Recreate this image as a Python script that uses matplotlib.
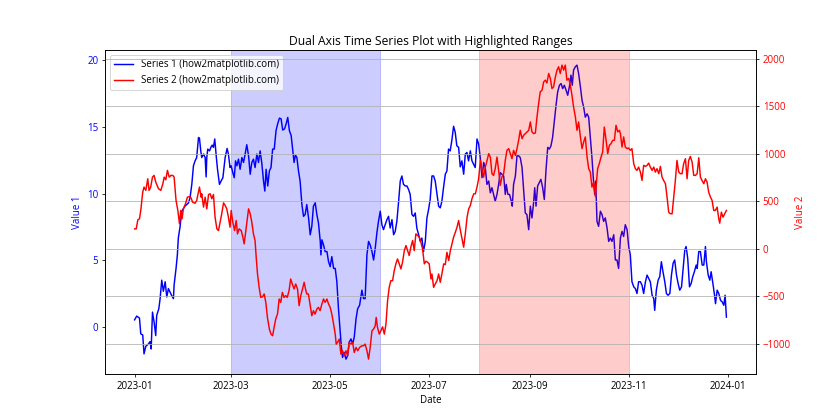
import matplotlib
matplotlib.use("Agg")
import matplotlib.pyplot as plt
import pandas as pd

plt.rcParams['font.family'] = ['Open Sans', 'DejaVu Sans']

start_date = "2023-01-01"

s1_day = [0.0, 1.3, 3.0, 3.8, 5.0, 5.8, 6.9, 8.5, 9.5, 10.2, 11.0, 12.0, 13.0, 13.6, 14.9, 15.7, 16.7, 17.7, 18.8, 19.8,
          20.8, 22.9, 23.9, 24.3, 25.5, 26.3, 26.9, 28.0, 29.0, 31.0, 33.1, 34.1, 35.2, 36.2, 37.2, 38.2, 39.3, 39.9, 40.7, 41.3,
          42.4, 43.4, 44.0, 44.4, 45.0, 46.1, 46.9, 47.7, 48.5, 49.3, 50.2, 51.0, 52.2, 53.2, 54.3, 55.7, 56.9, 57.7, 58.7,
          59.4, 60.4, 61.3, 62.1, 62.9, 63.9, 64.9, 66.0, 67.0, 68.0, 69.0, 70.1, 71.1, 72.1, 73.1, 74.1, 75.2, 76.2, 77.2, 78.2,
          79.3, 80.1, 80.9, 81.9, 82.9, 83.9, 84.9, 85.9, 87.0, 88.0, 89.1, 90.1, 91.1, 92.2, 93.2, 94.2, 95.2, 96.3, 97.3, 98.1,
          98.9, 99.8, 100.8, 101.8, 102.9, 103.9, 104.9, 105.9, 107.0, 108.0, 109.0, 110.0, 111.1, 112.1, 113.1, 114.2, 114.6,
          115.2, 116.2, 117.2, 118.3, 119.3, 120.3, 121.3, 122.4, 123.4, 124.4, 125.4, 126.5, 127.1, 127.9, 128.9, 130.0, 131.0,
          132.0, 133.1, 134.1, 135.1, 136.2, 137.2, 138.4,
          139.8, 140.8, 141.8, 142.9, 143.9, 144.9, 146.0, 147.0, 148.0, 149.0, 150.0, 151.1, 152.1, 153.1, 154.1, 155.2, 156.2,
          157.2, 158.3, 159.3, 160.3, 161.3, 162.4, 163.4, 164.4, 165.4, 166.5, 167.5, 168.5, 169.5, 170.6, 171.6, 172.6, 173.6,
          174.7, 175.7, 176.7, 177.7, 178.8, 179.8, 180.8, 181.8, 182.9, 183.9, 184.9, 185.9, 187.0, 188.0, 189.0, 190.0, 191.1,
          192.1, 193.1, 194.1, 195.1, 196.2, 197.2, 198.2, 199.3, 200.3, 201.3, 202.4, 203.4, 204.4, 205.4, 206.5, 207.5, 208.5,
          209.5, 210.6, 211.6, 212.6, 213.7, 214.7, 215.7, 216.7, 217.8,
          218.8, 219.8, 220.8, 221.8, 222.9, 223.9, 224.9, 225.9, 227.0, 228.0, 228.6, 229.6, 230.6, 231.7, 232.3, 233.1, 234.2,
          235.2, 236.2, 237.2, 238.3, 239.3, 240.3, 241.3, 242.4, 243.4, 244.4, 245.4, 246.1, 246.9, 247.9, 248.9, 249.9, 251.0,
          252.0, 253.0, 254.1, 255.1, 256.1, 257.1, 258.2, 259.2, 260.2, 261.3, 262.3, 263.3, 264.3, 265.4, 266.4, 267.4, 268.4,
          269.2, 270.0, 271.1, 272.1, 273.1, 274.2, 275.2, 276.2, 277.2, 278.3, 279.3, 280.3, 281.3, 282.4, 283.0, 283.6, 284.4,
          285.4, 286.5, 287.5, 288.5, 289.5, 290.6, 291.6, 292.6, 293.6, 294.7, 295.7, 296.7, 297.7,
          298.8, 299.8, 300.8, 301.8, 302.9, 303.9, 304.9, 305.9, 307.0, 308.0, 309.0, 310.0, 311.1, 312.1, 313.1, 314.2, 315.2,
          316.2, 317.2, 318.3, 319.3, 319.9, 320.9, 322.0, 323.0, 324.0, 325.0, 326.1, 327.1, 328.1, 329.2, 330.2, 331.2, 332.2,
          333.3, 334.3, 335.3, 336.4, 337.4, 338.4, 339.2, 340.2, 341.3, 342.3, 343.3, 344.3, 345.4, 346.0, 347.0, 348.0, 349.1,
          350.1, 351.1, 351.7, 352.8, 353.8, 354.6, 355.7, 356.7, 357.3, 358.3, 359.3, 360.4, 361.4, 362.4, 363.2, 364.0]

s1_val = [0.55, 0.83, 0.68, -0.5, -0.58, -2.0, -1.43, -1.26, -1.08, -1.63, 1.13, 0.38, -0.63, 0.88, 1.38, 2.14, 3.52, 2.69, 3.4, 2.26,
          2.89, 2.34, 2.14, 3.15, 4.4, 5.4, 6.67, 7.55, 8.68, 9.06, 9.3, 9.69, 10.7, 12.08, 12.45, 12.7, 14.2, 14.15, 13.2, 12.7,
          12.96, 12.7, 11.25, 12.7, 13.33, 13.2, 13.46, 13.63, 13.46, 14.09, 12.83, 11.82, 10.69, 10.94, 11.19, 12.7, 13.38, 12.96, 11.95,
          12.08, 11.57, 11.19, 12.45, 12.08, 12.58, 11.82, 12.7, 12.33, 12.96, 13.66, 12.83, 11.45, 12.33, 12.58, 11.95, 12.96, 12.33, 13.2, 12.33,
          10.94, 10.19, 11.82, 10.57, 11.7, 11.95, 13.33, 13.33, 14.72, 15.22, 15.65, 15.6, 14.76, 14.84, 15.22, 15.7, 14.72, 14.34, 13.2, 12.33,
          12.88, 12.71, 11.7, 10.94, 9.18, 8.3, 8.43, 9.18, 8.18, 6.92, 7.55, 9.06, 9.31, 8.43, 7.8, 6.42, 5.41,
          6.54, 6.16, 5.66, 5.66, 4.9, 4.53, 5.28, 4.4, 4.4, 3.4, 1.38, -0.38, -1.38, -2.26, -1.89, -2.39, -2.14,
          -1.13, -0.88, -1.26, -0.75, 0.63, 1.38, 1.64,
          2.77, 2.14, 2.14, 5.41, 6.42, 6.16, 5.66, 5.03, 5.91, 7.04, 7.92, 8.68, 7.67, 7.3, 7.67, 8.05, 8.3,
          7.42, 8.05, 6.92, 7.17, 7.92, 9.43, 10.94, 11.32, 10.69, 10.57, 10.57, 10.31, 9.94, 8.43, 8.3, 8.55, 7.42,
          6.92, 6.42, 6.67, 5.66, 6.42, 8.18, 8.8, 9.56, 11.32, 11.32, 10.94, 10.06, 9.06, 8.93, 9.43, 10.44, 11.45,
          11.7, 13.33, 13.2, 13.96, 15.04, 14.59, 13.58, 13.46, 12.0, 12.45, 11.45, 12.96, 13.08, 12.45, 13.2, 12.45, 12.2,
          11.95, 14.09, 13.71, 12.7, 11.19, 12.33, 11.95, 10.69, 10.94,
          10.06, 10.44, 9.94, 9.43, 9.94, 10.69, 11.57, 11.45, 11.32, 9.94, 10.69, 9.94, 9.94, 9.43, 9.06, 10.69, 11.32,
          12.83, 12.83, 12.7, 11.95, 10.19, 8.55, 8.43, 7.3, 9.06, 8.18, 9.31, 10.44, 9.06, 10.57, 10.82, 11.07, 10.44,
          9.56, 11.7, 13.46, 13.33, 13.58, 14.21, 15.47, 16.6, 17.6, 18.11, 18.24, 17.86, 18.11, 17.74, 17.36, 17.99, 18.87,
          18.11, 19.25, 19.5, 19.62, 18.99, 17.99, 16.98, 16.48, 15.72, 15.97, 15.72, 14.21, 12.7, 10.69, 9.94, 10.94, 7.92,
          7.55, 8.68, 8.43, 7.92, 8.18, 7.42, 6.42, 6.67, 6.42, 6.92, 5.03, 5.03, 4.4,
          6.67, 7.17, 6.79, 7.67, 7.3, 6.04, 5.41, 3.4, 3.02, 2.89, 2.52, 3.4, 3.4, 3.14, 2.52, 3.4, 3.9,
          3.65, 3.4, 2.39, 2.14, 1.26, 2.77, 3.52, 3.78, 4.9, 4.15, 3.4, 2.52, 2.39, 2.52, 3.9, 4.78, 5.03,
          3.9, 3.27, 2.77, 3.02, 4.4, 5.79, 6.04, 5.16, 3.02, 3.27, 3.78, 4.15, 4.65, 4.4, 5.66, 5.66, 4.65,
          4.65, 6.04, 4.9, 3.9, 3.52, 4.15, 3.27, 2.39, 1.76, 2.77, 2.52, 2.01, 1.89, 1.64, 2.39, 0.75]

s2_day = [0.0, 1.0, 2.0, 3.0, 3.8, 5.0, 5.8, 6.9, 8.1, 8.9, 9.9, 11.0, 12.0, 13.0, 14.7, 16.1, 17.4, 18.2, 19.2, 20.2,
          21.3, 22.3, 23.5, 24.3, 25.5, 26.6, 27.6, 28.4, 29.2, 30.0, 31.3, 32.5, 33.7, 34.5, 35.7, 37.2, 38.2, 39.3, 39.9, 40.9,
          41.3, 42.4, 43.4, 44.4, 45.5, 46.5, 47.5, 48.5, 49.5, 50.6, 51.6, 52.6, 53.6, 54.7, 55.7, 56.7, 57.7, 58.7,
          59.4, 60.4, 61.5, 62.5, 63.3, 64.3, 65.6, 66.6, 67.4, 68.4, 69.0, 70.1, 71.1, 72.1, 73.1, 74.1, 74.8, 75.6, 76.6, 77.6,
          78.7, 79.7, 80.7, 81.7, 82.9, 83.9, 84.9, 85.8, 86.8, 87.9, 88.9, 89.9, 90.9, 91.9, 92.9, 93.9, 95.0, 96.0, 97.0, 98.1,
          99.1, 100.2, 101.2, 102.2, 103.3, 104.3, 105.1, 105.9, 106.9, 108.0, 109.0, 110.0, 111.0, 112.1, 113.1, 114.1, 115.2,
          116.2, 117.2, 118.3, 119.3, 120.3, 121.3, 122.4, 123.4, 124.0, 124.8, 125.9, 126.9, 127.9, 128.9, 130.0, 131.0, 132.0,
          133.1, 134.1, 135.1, 136.2, 137.2, 138.4,
          139.8, 140.8, 141.8, 142.9, 143.9, 144.9, 146.0, 147.0, 148.0, 148.6, 149.4, 150.5, 151.5, 152.5, 153.6, 154.6, 155.6,
          156.6, 157.6, 158.7, 159.7, 160.7, 161.7, 162.8, 163.8, 164.8, 165.9, 166.9, 167.9, 168.9, 169.9, 171.0, 172.0, 173.0,
          174.1, 175.1, 176.1, 177.1, 178.2, 179.2, 180.2, 181.2, 182.3, 182.9, 183.9, 184.9, 186.0, 187.0, 188.0, 189.0, 190.1,
          191.1, 192.1, 193.2, 194.2, 195.2, 196.2, 197.3, 198.3, 199.3, 200.4, 201.4, 202.4, 203.4, 204.5, 205.5, 206.5, 207.5,
          208.6, 209.6, 210.6, 211.6, 212.7, 213.7, 214.7, 215.7, 216.8, 217.8,
          218.8, 219.8, 220.8, 221.8, 222.9, 223.9, 224.9, 225.9, 227.0, 228.0, 229.0, 230.1, 231.1, 232.1, 233.1, 234.2, 235.2,
          236.2, 237.2, 238.3, 239.3, 240.3, 241.3, 242.4, 243.4, 244.4, 245.4, 246.5, 247.5, 248.5, 249.5, 250.6, 251.6, 252.6,
          253.6, 254.7, 255.7, 256.7, 257.7, 258.8, 259.8, 260.8, 261.8, 262.9, 263.9, 264.9, 265.9, 267.0, 268.0, 269.0, 270.0,
          271.1, 272.1, 273.1, 274.2, 275.2, 276.2, 277.2, 278.3, 279.3, 280.3, 281.3, 282.4, 283.4, 284.0, 284.8, 285.8, 286.9,
          287.9, 288.9, 290.0, 291.0, 292.0, 293.0, 294.1, 295.1, 296.1, 297.2, 298.2,
          298.8, 299.8, 300.8, 301.8, 302.9, 303.9, 304.9, 305.9, 307.0, 308.0, 309.0, 310.0, 311.1, 312.1, 313.1, 314.2, 315.2,
          316.2, 317.2, 318.3, 319.3, 320.3, 321.3, 322.4, 323.4, 324.4, 325.4, 326.5, 327.5, 328.5, 329.5, 330.6, 331.6, 332.6,
          333.6, 334.7, 335.7, 336.7, 337.7, 338.8, 339.8, 340.8, 341.8, 342.9, 343.9, 344.9, 346.0, 347.0, 348.0, 349.0, 350.1,
          351.1, 352.1, 353.1, 354.2, 355.2, 356.2, 357.2, 358.3, 359.3, 359.9, 360.9, 361.9, 363.0, 364.0]

s2_val = [211, 211, 306, 317, 405, 598, 651, 616, 739, 616, 651, 756, 774, 704, 634, 616, 686, 756, 728, 827,
          756, 774, 774, 756, 510, 405, 264, 405, 317, 422, 475, 545, 551, 545, 492, 481, 510, 598, 651, 545,
          580, 440, 545, 422, 573, 580, 528, 573, 334, 211, 193, 281, 370, 485, 457, 422, 334, 228,
          405, 281, 193, 299, 158, 211, 193, 123, 53, 193, 281, 422, 370, 281, 158, 88, -89, -264, -405, -511,
          -504, -475, -563, -722, -845, -898, -915, -828, -739, -687, -528, -563, -458, -511, -493, -511, -440, -317, -370, -422,
          -370, -422, -599, -493, -422, -352, -422, -475, -475, -599, -704, -651, -687, -634, -616, -651, -581,
          -528, -563, -528, -581, -616, -687, -792, -898, -1003, -986, -950, -1109, -1073, -1126, -1073, -1126, -986,
          -1003, -986, -1091, -1038, -1073, -1038,
          -1021, -1021, -1003, -1073, -1161, -1038, -863, -845, -810, -722, -828, -898, -863, -821, -898, -792, -546,
          -405, -335, -335, -229, -158, -106, -158, -211, -141, -18, 35, -18, -70, 18, 88, -18, 158,
          141, 123, 70, 0, -158, -130, -141, -158, -317, -264, -405, -370, -335, -264, -352, -264, -158,
          -165, -36, -123, -18, 53, 123, 176, 228, 299, 193, 105, 18, 158, 334, 422, 457, 528,
          580, 580, 651, 739, 932, 827, 756, 862, 932, 1003,
          967, 792, 774, 845, 967, 827, 668, 756, 792, 932, 1038, 1056, 1003, 950, 1038, 985, 1056,
          1144, 1249, 1161, 1197, 1214, 1232, 1249, 1337, 1232, 1214, 1221, 1390, 1531, 1654, 1672, 1759, 1777,
          1748, 1848, 1795, 1689, 1707, 1812, 1883, 1918, 1848, 1936, 1883, 1936, 1777, 1795, 1724, 1619, 1495,
          1390, 1249, 1337, 1179, 1056, 1126, 1179, 967, 845, 809, 651, 704, 552, 686, 845, 897, 967,
          1021, 1284, 1144, 1003, 1091, 1108, 1144, 1144, 1302, 1232, 1249,
          1214, 1073, 1179, 1073, 1056, 1063, 1038, 1056, 897, 845, 827, 862, 809, 721, 880, 869, 880,
          904, 862, 827, 862, 809, 845, 792, 869, 756, 721, 686, 545, 387, 370, 370, 545, 721,
          932, 809, 792, 792, 897, 950, 739, 932, 974, 915, 774, 774, 792, 960, 756, 721, 686,
          739, 704, 598, 545, 510, 405, 405, 440, 317, 271, 387, 334, 370, 405]

series_labels = ["Series 1 (how2matplotlib.com)", "Series 2 (how2matplotlib.com)"]
range1 = ("2023-03-01", "2023-06-01")
range2 = ("2023-08-01", "2023-11-01")

base = pd.Timestamp(start_date)
dates1 = base + pd.to_timedelta(s1_day, unit="D")
dates2 = base + pd.to_timedelta(s2_day, unit="D")

fig, ax1 = plt.subplots(figsize=(12, 6), dpi=70)
l1, = ax1.plot(dates1, s1_val, color="blue", label=series_labels[0])
ax1.set_xlabel("Date")
ax1.set_ylabel("Value 1", color="blue")
ax1.tick_params(axis="y", labelcolor="blue")
ax1.axvspan(pd.Timestamp(range1[0]), pd.Timestamp(range1[1]), alpha=0.2, color="blue")

ax2 = ax1.twinx()
l2, = ax2.plot(dates2, s2_val, color="red", label=series_labels[1])
ax2.set_ylabel("Value 2", color="red")
ax2.tick_params(axis="y", labelcolor="red")
ax2.axvspan(pd.Timestamp(range2[0]), pd.Timestamp(range2[1]), alpha=0.2, color="red")
ax2.grid(True)

ax1.legend([l1, l2], series_labels, loc="upper left")
ax1.set_title("Dual Axis Time Series Plot with Highlighted Ranges", fontsize=12.5)

fig.savefig("out.png")
